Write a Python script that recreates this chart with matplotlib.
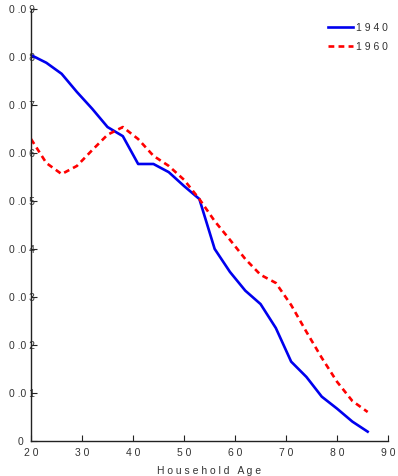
import matplotlib
matplotlib.use('Agg')
import matplotlib.pyplot as plt

ages = [20, 23, 26, 29, 32, 35, 38, 41, 44, 47, 50, 53,
        56, 59, 62, 65, 68, 71, 74, 77, 80, 83, 86]

share_1940 = [0.0804, 0.0788, 0.0765, 0.0727, 0.0692, 0.0654, 0.0635, 0.0577,
              0.0577, 0.0560, 0.0531, 0.0504, 0.0400, 0.0352, 0.0313, 0.0285,
              0.0235, 0.0165, 0.0133, 0.0092, 0.0067, 0.0040, 0.0019]

share_1960 = [0.0629, 0.0579, 0.0556, 0.0573, 0.0606, 0.0638, 0.0654, 0.0629,
              0.0594, 0.0573, 0.0544, 0.0504, 0.0458, 0.0419, 0.0379, 0.0346,
              0.0329, 0.0283, 0.0227, 0.0173, 0.0123, 0.0083, 0.0060]

x_ticks = [20, 30, 40, 50, 60, 70, 80, 90]
y_ticks = [0, 0.01, 0.02, 0.03, 0.04, 0.05, 0.06, 0.07, 0.08, 0.09]


def spaced(s):
    return ' '.join(s)


def ylab(v):
    # "0.09" drawn as "0 .0 9"
    s = '%.2f' % v
    return s[0] + ' ' + s[1:3] + ' ' + s[3]


plt.rcParams['font.family'] = ['Liberation Sans', 'DejaVu Sans']
txt = '#333333'

fig = plt.figure(figsize=(3.98, 4.76), dpi=100)
ax = fig.add_axes([0.078, 0.074, 0.897, 0.907])

ax.plot(ages, share_1940, color='#0000ee', linewidth=1.9, label=spaced('1940'))
ax.plot(ages, share_1960, color='#ff0000', linewidth=1.9, linestyle=(0, (2.2, 1.6)),
        label=spaced('1960'))

ax.set_xlim(20, 90)
ax.set_ylim(0, 0.09)
ax.set_xticks(x_ticks)
ax.set_xticklabels([spaced(str(t)) for t in x_ticks], fontsize=7.5, color=txt)
ax.set_yticks(y_ticks)
ax.set_yticklabels(['0    '] + [ylab(t) for t in y_ticks[1:]], fontsize=7.5, color=txt)

ax.spines['top'].set_visible(False)
ax.spines['right'].set_visible(False)
for s in ['left', 'bottom']:
    ax.spines[s].set_color('#222222')
    ax.spines[s].set_linewidth(1.0)
ax.tick_params(axis='both', direction='in', length=4, color='#222222')
ax.tick_params(axis='y', pad=-3)
ax.tick_params(axis='x', pad=5)

ax.set_xlabel(spaced('Household Age'), fontsize=7.5, color=txt, labelpad=6)

ax.legend(loc='upper right', frameon=False, fontsize=7.5, handlelength=2.4,
          handletextpad=0.3, labelspacing=0.9, labelcolor=txt,
          bbox_to_anchor=(1.025, 0.99))

fig.savefig('out.png', dpi=100)
